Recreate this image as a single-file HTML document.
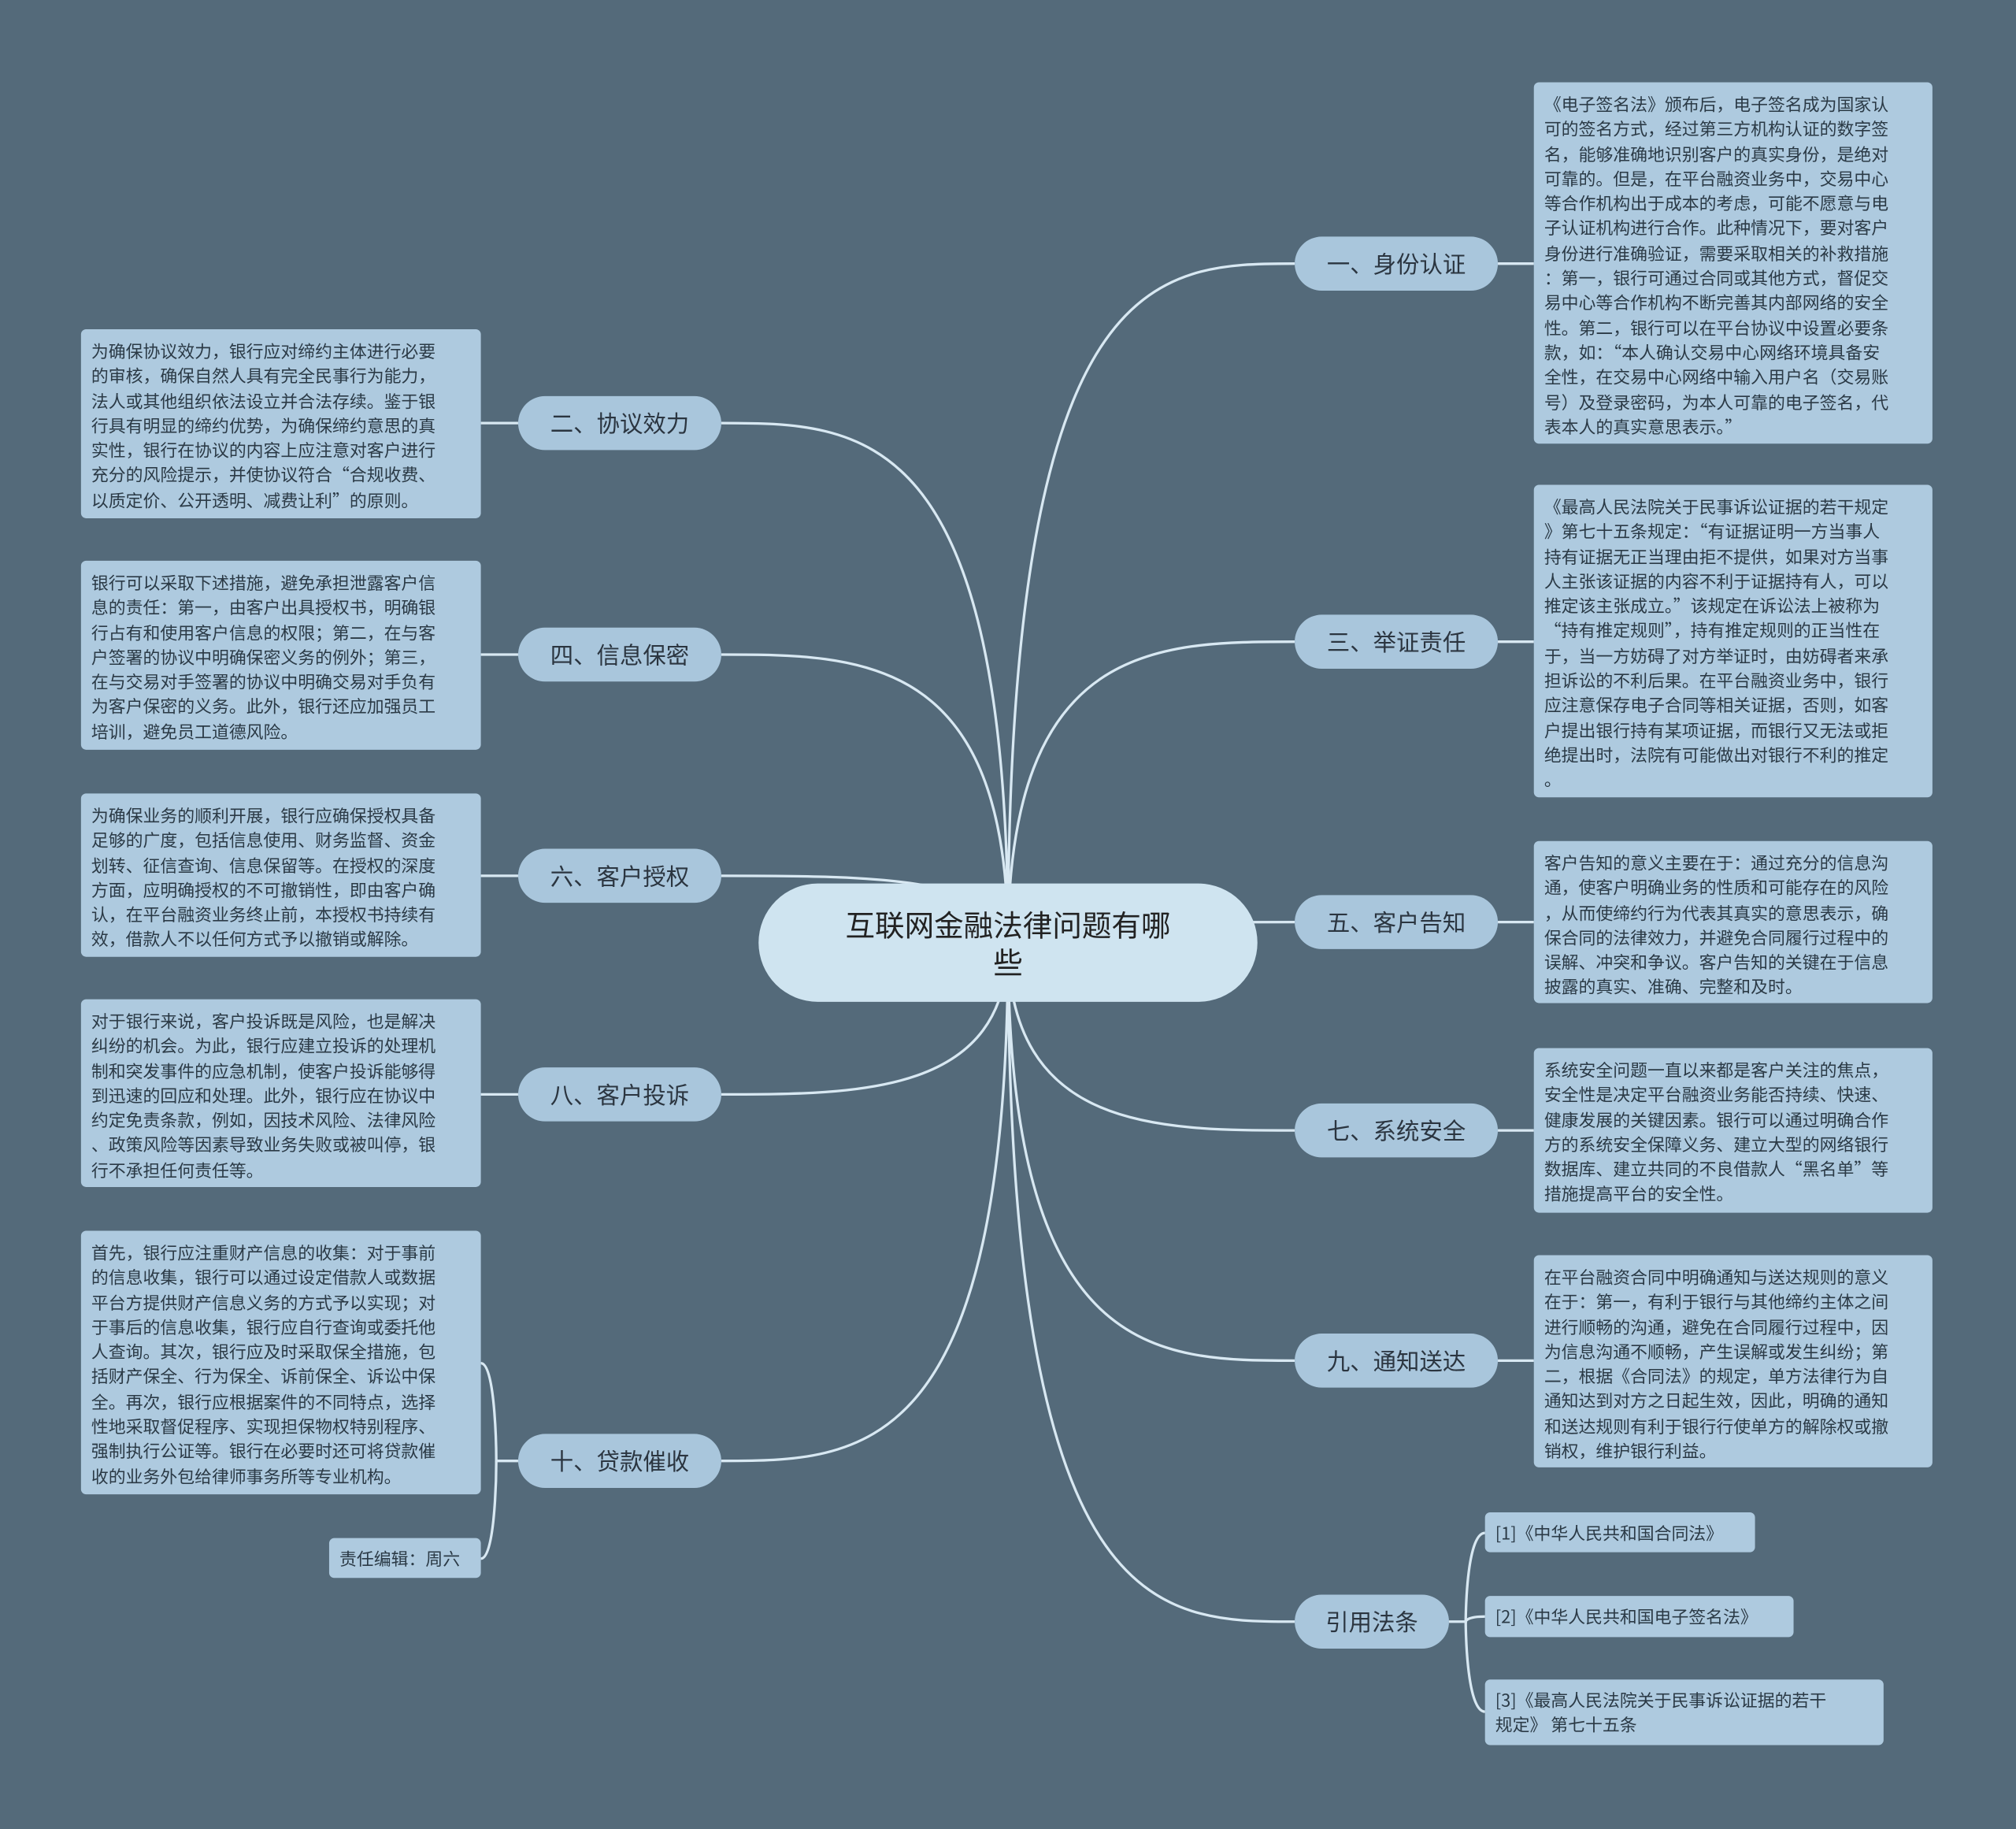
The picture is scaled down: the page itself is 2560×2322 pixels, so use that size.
<!DOCTYPE html>
<html><head><meta charset="utf-8"><style>
html,body{margin:0;padding:0;background:#546a7a;}
body{width:2560px;height:2321px;overflow:hidden;position:relative;}
#c{position:absolute;left:0;top:0;width:1568px;height:1422px;transform:scale(1.632653);transform-origin:0 0;font-family:"Noto Sans CJK SC","Liberation Sans",sans-serif;}
.leaf{position:absolute;background:#aecadf;border-radius:4px;color:#2b3a46;font-size:13.4px;line-height:19.3px;padding:7px 8px 6px 8px;white-space:nowrap;box-sizing:border-box;}
.node{position:absolute;background:#a9c6dc;border-radius:21px;height:42px;line-height:42px;text-align:center;font-size:18px;color:#2b3540;box-sizing:border-box;}
.root{position:absolute;left:590px;top:687px;width:388px;height:92px;border-radius:46px;background:#cfe4f0;text-align:center;font-size:23px;line-height:29px;color:#222;padding-top:17px;box-sizing:border-box;}
svg{position:absolute;left:0;top:0;}
</style></head><body><div id="c">
<svg width="1568" height="1422" viewBox="0 0 1568 1422" fill="none" stroke="#d8e8f2" stroke-width="2">
<path d="M784 733 C784 205 900 205 1007 205"/>
<path d="M784 733 C784 499 900 499 1007 499"/>
<path d="M784 733 C784 717 900 717 1007 717"/>
<path d="M784 733 C784 879 900 879 1007 879"/>
<path d="M784 733 C784 1058 900 1058 1007 1058"/>
<path d="M784 733 C784 1261 900 1261 1007 1261"/>
<path d="M784 733 C784 329 670 329 561 329"/>
<path d="M784 733 C784 509 670 509 561 509"/>
<path d="M784 733 C784 681 670 681 561 681"/>
<path d="M784 733 C784 851 670 851 561 851"/>
<path d="M784 733 C784 1136 670 1136 561 1136"/>
<path d="M1165 205 H1193"/><path d="M1165 499 H1193"/><path d="M1165 717 H1193"/><path d="M1165 879 H1193"/><path d="M1165 1058 H1193"/>
<path d="M403 329 H374"/><path d="M403 509 H374"/><path d="M403 681 H374"/><path d="M403 851 H374"/>
<path d="M403 1136 H386 C386 1136 386 1060 374 1060"/>
<path d="M386 1136 C386 1136 386 1212 374 1212"/>
<path d="M1127 1261 H1140 C1140 1261 1140 1192 1155 1192"/>
<path d="M1140 1261 C1140 1261 1140 1257 1155 1257"/>
<path d="M1140 1261 C1140 1261 1140 1331 1155 1331"/>
</svg>
<div class="root">互联网金融法律问题有哪<br>些</div>

<div class="node" style="left:1007px;top:184px;width:158px">一、身份认证</div>
<div class="node" style="left:1007px;top:478px;width:158px">三、举证责任</div>
<div class="node" style="left:1007px;top:696px;width:158px">五、客户告知</div>
<div class="node" style="left:1007px;top:858px;width:158px">七、系统安全</div>
<div class="node" style="left:1007px;top:1037px;width:158px">九、通知送达</div>
<div class="node" style="left:1007px;top:1240px;width:120px">引用法条</div>
<div class="node" style="left:403px;top:308px;width:158px">二、协议效力</div>
<div class="node" style="left:403px;top:488px;width:158px">四、信息保密</div>
<div class="node" style="left:403px;top:660px;width:158px">六、客户授权</div>
<div class="node" style="left:403px;top:830px;width:158px">八、客户投诉</div>
<div class="node" style="left:403px;top:1115px;width:158px">十、贷款催收</div>

<div class="leaf" style="left:1193px;top:64px;width:310px;height:281px">《电子签名法》颁布后，电子签名成为国家认<br>可的签名方式，经过第三方机构认证的数字签<br>名，能够准确地识别客户的真实身份，是绝对<br>可靠的。但是，在平台融资业务中，交易中心<br>等合作机构出于成本的考虑，可能不愿意与电<br>子认证机构进行合作。此种情况下，要对客户<br>身份进行准确验证，需要采取相关的补救措施<br>：第一，银行可通过合同或其他方式，督促交<br>易中心等合作机构不断完善其内部网络的安全<br>性。第二，银行可以在平台协议中设置必要条<br>款，如：“本人确认交易中心网络环境具备安<br>全性，在交易中心网络中输入用户名（交易账<br>号）及登录密码，为本人可靠的电子签名，代<br>表本人的真实意思表示。”</div>
<div class="leaf" style="left:1193px;top:377px;width:310px;height:243px">《最高人民法院关于民事诉讼证据的若干规定<br>》第七十五条规定：“有证据证明一方当事人<br>持有证据无正当理由拒不提供，如果对方当事<br>人主张该证据的内容不利于证据持有人，可以<br>推定该主张成立。”该规定在诉讼法上被称为<br>“持有推定规则”，持有推定规则的正当性在<br>于，当一方妨碍了对方举证时，由妨碍者来承<br>担诉讼的不利后果。在平台融资业务中，银行<br>应注意保存电子合同等相关证据，否则，如客<br>户提出银行持有某项证据，而银行又无法或拒<br>绝提出时，法院有可能做出对银行不利的推定<br>。</div>
<div class="leaf" style="left:1193px;top:654px;width:310px;height:126px">客户告知的意义主要在于：通过充分的信息沟<br>通，使客户明确业务的性质和可能存在的风险<br>，从而使缔约行为代表其真实的意思表示，确<br>保合同的法律效力，并避免合同履行过程中的<br>误解、冲突和争议。客户告知的关键在于信息<br>披露的真实、准确、完整和及时。</div>
<div class="leaf" style="left:1193px;top:815px;width:310px;height:128px">系统安全问题一直以来都是客户关注的焦点，<br>安全性是决定平台融资业务能否持续、快速、<br>健康发展的关键因素。银行可以通过明确合作<br>方的系统安全保障义务、建立大型的网络银行<br>数据库、建立共同的不良借款人“黑名单”等<br>措施提高平台的安全性。</div>
<div class="leaf" style="left:1193px;top:976px;width:310px;height:165px">在平台融资合同中明确通知与送达规则的意义<br>在于：第一，有利于银行与其他缔约主体之间<br>进行顺畅的沟通，避免在合同履行过程中，因<br>为信息沟通不顺畅，产生误解或发生纠纷；第<br>二，根据《合同法》的规定，单方法律行为自<br>通知达到对方之日起生效，因此，明确的通知<br>和送达规则有利于银行行使单方的解除权或撤<br>销权，维护银行利益。</div>
<div class="leaf" style="left:1155px;top:1176px;width:210px;height:31px;padding-top:6px">[1]《中华人民共和国合同法》</div>
<div class="leaf" style="left:1155px;top:1241px;width:240px;height:32px;padding-top:6px">[2]《中华人民共和国电子签名法》</div>
<div class="leaf" style="left:1155px;top:1306px;width:310px;height:51px;padding-top:6px">[3]《最高人民法院关于民事诉讼证据的若干<br>规定》 第七十五条</div>

<div class="leaf" style="left:63px;top:256px;width:311px;height:147px">为确保协议效力，银行应对缔约主体进行必要<br>的审核，确保自然人具有完全民事行为能力，<br>法人或其他组织依法设立并合法存续。鉴于银<br>行具有明显的缔约优势，为确保缔约意思的真<br>实性，银行在协议的内容上应注意对客户进行<br>充分的风险提示，并使协议符合“合规收费、<br>以质定价、公开透明、减费让利”的原则。</div>
<div class="leaf" style="left:63px;top:436px;width:311px;height:147px">银行可以采取下述措施，避免承担泄露客户信<br>息的责任：第一，由客户出具授权书，明确银<br>行占有和使用客户信息的权限；第二，在与客<br>户签署的协议中明确保密义务的例外；第三，<br>在与交易对手签署的协议中明确交易对手负有<br>为客户保密的义务。此外，银行还应加强员工<br>培训，避免员工道德风险。</div>
<div class="leaf" style="left:63px;top:617px;width:311px;height:127px">为确保业务的顺利开展，银行应确保授权具备<br>足够的广度，包括信息使用、财务监督、资金<br>划转、征信查询、信息保留等。在授权的深度<br>方面，应明确授权的不可撤销性，即由客户确<br>认，在平台融资业务终止前，本授权书持续有<br>效，借款人不以任何方式予以撤销或解除。</div>
<div class="leaf" style="left:63px;top:777px;width:311px;height:146px">对于银行来说，客户投诉既是风险，也是解决<br>纠纷的机会。为此，银行应建立投诉的处理机<br>制和突发事件的应急机制，使客户投诉能够得<br>到迅速的回应和处理。此外，银行应在协议中<br>约定免责条款，例如，因技术风险、法律风险<br>、政策风险等因素导致业务失败或被叫停，银<br>行不承担任何责任等。</div>
<div class="leaf" style="left:63px;top:957px;width:311px;height:205px">首先，银行应注重财产信息的收集：对于事前<br>的信息收集，银行可以通过设定借款人或数据<br>平台方提供财产信息义务的方式予以实现；对<br>于事后的信息收集，银行应自行查询或委托他<br>人查询。其次，银行应及时采取保全措施，包<br>括财产保全、行为保全、诉前保全、诉讼中保<br>全。再次，银行应根据案件的不同特点，选择<br>性地采取督促程序、实现担保物权特别程序、<br>强制执行公证等。银行在必要时还可将贷款催<br>收的业务外包给律师事务所等专业机构。</div>
<div class="leaf" style="left:256px;top:1196px;width:118px;height:31px;padding-top:6px">责任编辑：周六</div>
</div></body></html>
